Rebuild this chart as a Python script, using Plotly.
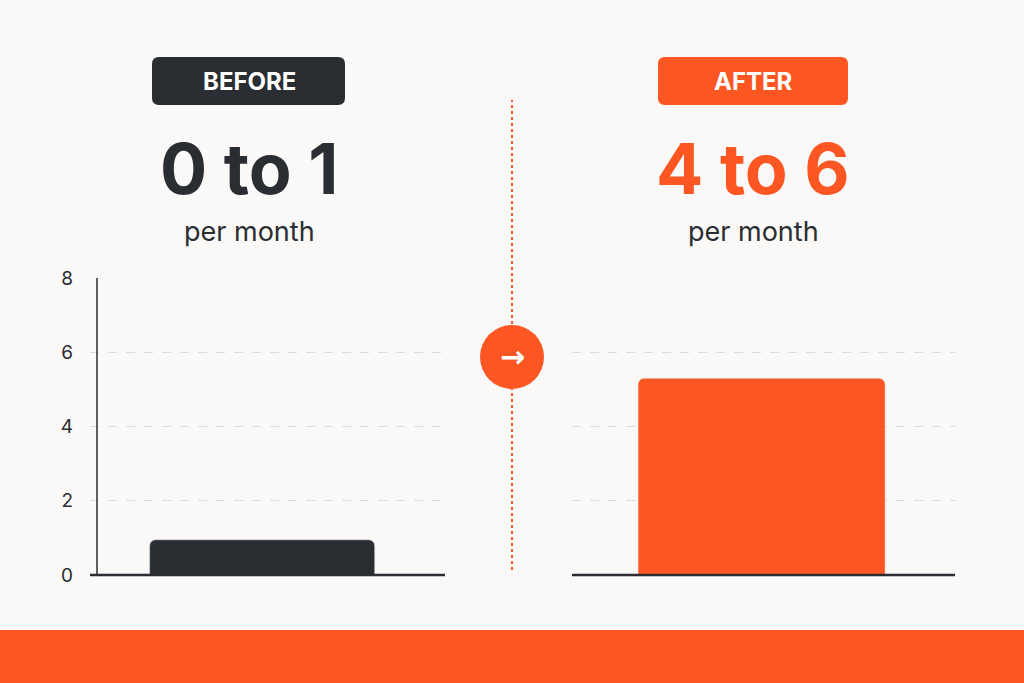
import plotly.graph_objects as go

W, H = 1024, 683
ORANGE = '#fc5623'
DARK = '#2a2d31'
BG = '#faf9f7'

periods = ['BEFORE', 'AFTER']
headline = ['0 to 1', '4 to 6']
per_month = [0.95, 5.3]
yticks = [0, 2, 4, 6, 8]

def px_x(x):
    return x / W

def px_y(y):
    return 1 - y / H

def rounded_rect(x0, x1, y0, y1, r):
    # path in pixel coords converted to paper, y0 top, y1 bottom
    rx, ry = r / W, r / H
    a, b = px_x(x0), px_x(x1)
    t, u = px_y(y0), px_y(y1)
    return ('M %f,%f L %f,%f Q %f,%f %f,%f L %f,%f Q %f,%f %f,%f L %f,%f Q %f,%f %f,%f L %f,%f Q %f,%f %f,%f Z'
            % (a + rx, t, b - rx, t, b, t, b, t - ry, b, u + ry, b, u, b - rx, u,
               a + rx, u, a, u, a, u + ry, a, t - ry, a, t, a + rx, t))

fig = go.Figure()
fig.add_trace(go.Bar(x=[periods[0]], y=[per_month[0]], marker_color=DARK, width=0.634,
                     xaxis='x', yaxis='y', hoverinfo='skip'))
fig.add_trace(go.Bar(x=[periods[1]], y=[per_month[1]], marker_color=ORANGE, width=0.645,
                     xaxis='x2', yaxis='y2', hoverinfo='skip'))

ydom = [px_y(575), px_y(278)]
yax = dict(range=[0, 8], tickvals=yticks, showgrid=True, gridcolor='#dcdcdc', griddash='dash',
           zeroline=False, domain=ydom, fixedrange=True)
fig.update_layout(
    width=W, height=H, margin=dict(l=0, r=0, t=0, b=0, pad=0, autoexpand=False),
    paper_bgcolor=BG, plot_bgcolor=BG, showlegend=False, barcornerradius=6,
    font=dict(family='Inter', color=DARK),
    xaxis=dict(domain=[px_x(90), px_x(445)], showticklabels=False, range=[-0.485, 0.515],
               showgrid=False, fixedrange=True),
    xaxis2=dict(domain=[px_x(572), px_x(955)], showticklabels=False, range=[-0.495, 0.505],
                showgrid=False, fixedrange=True),
    yaxis=dict(yax, tickfont=dict(size=19, color=DARK), ticklabelstandoff=16, anchor='x'),
    yaxis2=dict(yax, showticklabels=False, anchor='x2'),
)

shapes = [
    # y axis line and baselines
    dict(type='line', xref='paper', yref='paper', x0=px_x(97), x1=px_x(97), y0=px_y(575), y1=px_y(278),
         line=dict(color=DARK, width=1.5)),
    dict(type='line', xref='paper', yref='paper', x0=px_x(90), x1=px_x(445), y0=px_y(575), y1=px_y(575),
         line=dict(color=DARK, width=2.5)),
    dict(type='line', xref='paper', yref='paper', x0=px_x(572), x1=px_x(955), y0=px_y(575), y1=px_y(575),
         line=dict(color=DARK, width=2.5)),
    # badges
    dict(type='path', xref='paper', yref='paper', path=rounded_rect(152, 345, 57, 105, 7),
         fillcolor=DARK, line_width=0),
    dict(type='path', xref='paper', yref='paper', path=rounded_rect(658, 848, 57, 105, 7),
         fillcolor=ORANGE, line_width=0),
    # divider
    dict(type='line', xref='paper', yref='paper', x0=0.5, x1=0.5, y0=px_y(570), y1=px_y(100),
         line=dict(color=ORANGE, width=2, dash='dot')),
    dict(type='circle', xref='paper', yref='paper', x0=px_x(480), x1=px_x(544), y0=px_y(389), y1=px_y(325),
         fillcolor=ORANGE, line_width=0),
    # bottom band
    dict(type='rect', xref='paper', yref='paper', x0=0, x1=1, y0=0, y1=px_y(630),
         fillcolor=ORANGE, line_width=0),
]
fig.update_layout(shapes=shapes)

anns = []
for cx, name, big, col in [(249, periods[0], headline[0], DARK), (753, periods[1], headline[1], ORANGE)]:
    anns.append(dict(x=px_x(cx), y=px_y(81), text='<b>%s</b>' % name,
                     font=dict(size=24, color='white', family='Inter')))
    anns.append(dict(x=px_x(cx), y=px_y(168), text='<b>%s</b>' % big,
                     font=dict(size=70, color=col, family='Inter')))
    anns.append(dict(x=px_x(cx), y=px_y(231), text='per month',
                     font=dict(size=27, color=DARK, family='Inter')))
anns.append(dict(x=0.5, y=px_y(356), text='<b>→</b>',
                 font=dict(size=30, color='white', family='DejaVu Sans')))
for a in anns:
    a.update(xref='paper', yref='paper', showarrow=False, xanchor='center', yanchor='middle')
fig.update_layout(annotations=anns)

fig.write_html('out.html', config={'displayModeBar': False},
               post_script="document.body.style.margin='0';")
